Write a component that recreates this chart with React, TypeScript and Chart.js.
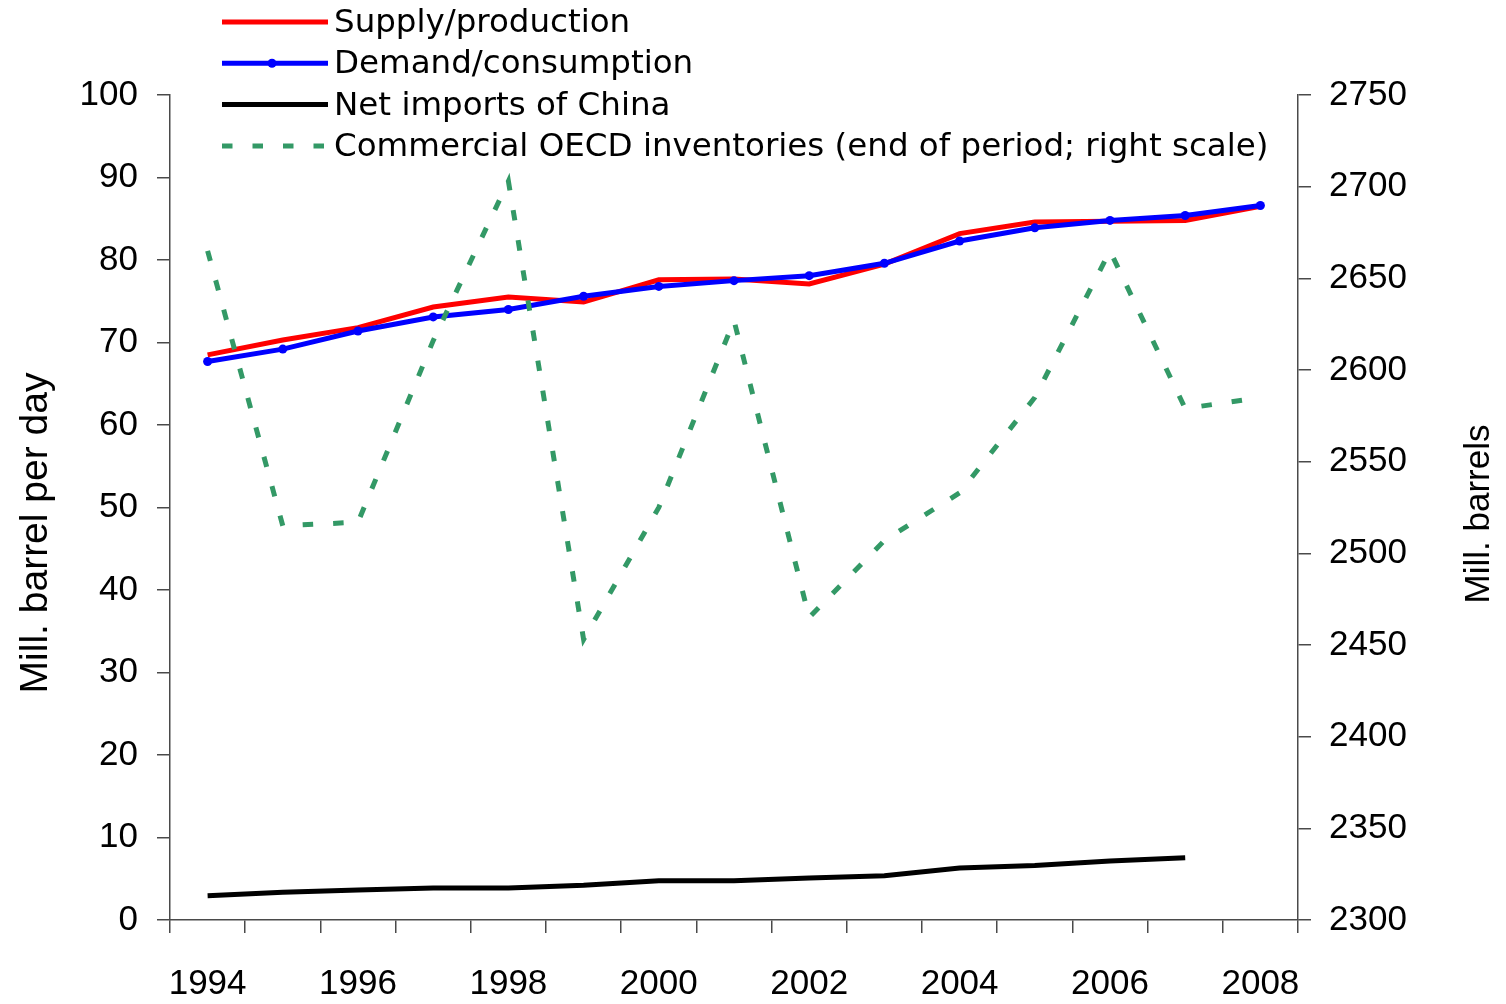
import React, { useEffect, useRef } from 'react';
import { Chart, registerables } from 'chart.js';

Chart.register(...registerables);

const years = ['1994', '1995', '1996', '1997', '1998', '1999', '2000', '2001', '2002', '2003', '2004', '2005', '2006', '2007', '2008'];
const supply = [68.5, 70.3, 71.8, 74.3, 75.5, 74.9, 77.6, 77.7, 77.1, 79.5, 83.2, 84.6, 84.7, 84.8, 86.5];
const demand = [67.7, 69.2, 71.4, 73.1, 74.0, 75.6, 76.8, 77.5, 78.1, 79.6, 82.3, 83.9, 84.8, 85.4, 86.6];
const chinaImports = [2.95, 3.35, 3.64, 3.88, 3.88, 4.2, 4.77, 4.77, 5.09, 5.37, 6.3, 6.6, 7.15, 7.56, null];
const oecdInventories = [2665, 2515, 2517, 2616, 2703, 2453, 2525, 2627, 2465, 2507, 2533, 2585, 2665, 2579, 2585];

const seriesLabels = [
  'Supply/production',
  'Demand/consumption',
  'Net imports of China',
  'Commercial OECD inventories (end of period; right scale)',
];
const leftTitle = 'Mill. barrel per day';
const rightTitle = 'Mill. barrels';

const TICK_FONT = { family: '"Liberation Sans", Arial, sans-serif', size: 35 };
const AXIS_COLOR = '#4a4a4a';

export default function App() {
  const ref = useRef<HTMLCanvasElement>(null);

  useEffect(() => {
    document.body.style.margin = '0';
    const canvas = ref.current;
    if (!canvas) return;

    const overlayPlugin = {
      id: 'overlay',
      afterDraw(chart: any) {
        const ctx = chart.ctx as CanvasRenderingContext2D;
        ctx.save();
        // legend
        chart.data.datasets.forEach((ds: any, i: number) => {
          const y = 22 + i * 41.3;
          ctx.beginPath();
          ctx.strokeStyle = ds.borderColor;
          ctx.lineWidth = ds.borderWidth;
          ctx.lineCap = 'butt';
          ctx.setLineDash(ds.borderDash || []);
          ctx.moveTo(222, y);
          ctx.lineTo(328, y);
          ctx.stroke();
          ctx.setLineDash([]);
          if (ds.pointRadius > 0) {
            ctx.beginPath();
            ctx.fillStyle = ds.pointBackgroundColor;
            ctx.arc(272, y, ds.pointRadius, 0, Math.PI * 2);
            ctx.fill();
          }
          ctx.fillStyle = '#000';
          ctx.font = '32.5px "DejaVu Sans", sans-serif';
          ctx.textAlign = 'left';
          ctx.textBaseline = 'alphabetic';
          ctx.fillText(ds.label, 334, y + 10);
        });
        // axis titles
        ctx.fillStyle = '#000';
        ctx.textAlign = 'center';
        ctx.textBaseline = 'alphabetic';
        ctx.save();
        ctx.translate(47, 533);
        ctx.rotate(-Math.PI / 2);
        ctx.font = '39px "Liberation Sans", Arial, sans-serif';
        ctx.fillText(leftTitle, 0, 0);
        ctx.restore();
        ctx.save();
        ctx.translate(1489, 514);
        ctx.rotate(-Math.PI / 2);
        ctx.font = '35px "Liberation Sans", Arial, sans-serif';
        ctx.fillText(rightTitle, 0, 0);
        ctx.restore();
        ctx.restore();
      },
    };

    const chart = new Chart(canvas, {
      type: 'line',
      data: {
        labels: years,
        datasets: [
          {
            label: seriesLabels[0],
            data: supply,
            borderColor: '#ff0000',
            backgroundColor: '#ff0000',
            borderWidth: 5,
            pointRadius: 0,
            tension: 0,
            yAxisID: 'y',
            order: 2,
          },
          {
            label: seriesLabels[1],
            data: demand,
            borderColor: '#0000ff',
            backgroundColor: '#0000ff',
            pointBackgroundColor: '#0000ff',
            pointBorderColor: '#0000ff',
            borderWidth: 5,
            pointRadius: 4.5,
            pointBorderWidth: 0,
            tension: 0,
            yAxisID: 'y',
            order: 1,
          },
          {
            label: seriesLabels[2],
            data: chinaImports,
            borderColor: '#000000',
            backgroundColor: '#000000',
            borderWidth: 5,
            pointRadius: 0,
            tension: 0,
            yAxisID: 'y',
            order: 3,
          },
          {
            label: seriesLabels[3],
            data: oecdInventories,
            borderColor: '#339966',
            backgroundColor: '#339966',
            borderWidth: 5,
            borderDash: [10.5, 20],
            borderCapStyle: 'butt',
            pointRadius: 0,
            tension: 0,
            yAxisID: 'y2',
            order: 0,
          },
        ],
      } as any,
      options: {
        responsive: false,
        devicePixelRatio: 1,
        animation: false,
        layout: { padding: { top: 95, left: 0, right: 0, bottom: 0 } },
        plugins: {
          legend: { display: false },
          tooltip: { enabled: false },
          title: { display: false },
        },
        scales: {
          x: {
            type: 'category',
            offset: true,
            grid: {
              offset: true,
              drawOnChartArea: false,
              drawTicks: true,
              tickLength: 13,
              color: AXIS_COLOR,
              lineWidth: 1.5,
            },
            border: { display: true, color: AXIS_COLOR, width: 1.5 },
            ticks: {
              autoSkip: false,
              maxRotation: 0,
              minRotation: 0,
              padding: 30,
              color: '#000',
              font: TICK_FONT,
              callback: (_v: any, i: number) => (i % 2 === 0 ? years[i] : ''),
            },
            afterFit: (s: any) => {
              s.height = 84;
            },
          },
          y: {
            type: 'linear',
            position: 'left',
            min: 0,
            max: 100,
            grid: {
              drawOnChartArea: false,
              drawTicks: true,
              tickLength: 13,
              color: AXIS_COLOR,
              lineWidth: 1.5,
            },
            border: { display: true, color: AXIS_COLOR, width: 1.5 },
            ticks: {
              stepSize: 10,
              padding: 19,
              color: '#000',
              font: TICK_FONT,
              callback: (v: any) => String(v),
            },
            afterFit: (s: any) => {
              s.width = 170;
            },
          },
          y2: {
            type: 'linear',
            position: 'right',
            min: 2300,
            max: 2750,
            grid: {
              drawOnChartArea: false,
              drawTicks: true,
              tickLength: 13,
              color: AXIS_COLOR,
              lineWidth: 1.5,
            },
            border: { display: true, color: AXIS_COLOR, width: 1.5 },
            ticks: {
              stepSize: 50,
              padding: 18,
              color: '#000',
              font: TICK_FONT,
              callback: (v: any) => String(v),
            },
            afterFit: (s: any) => {
              s.width = 208;
            },
          },
        },
      } as any,
      plugins: [overlayPlugin],
    });

    return () => {
      chart.destroy();
    };
  }, []);

  return (
    <div style={{ position: 'absolute', left: 0, top: 0, width: 1506, height: 1004 }}>
      <canvas ref={ref} width={1506} height={1004} style={{ display: 'block', width: 1506, height: 1004 }} />
    </div>
  );
}
